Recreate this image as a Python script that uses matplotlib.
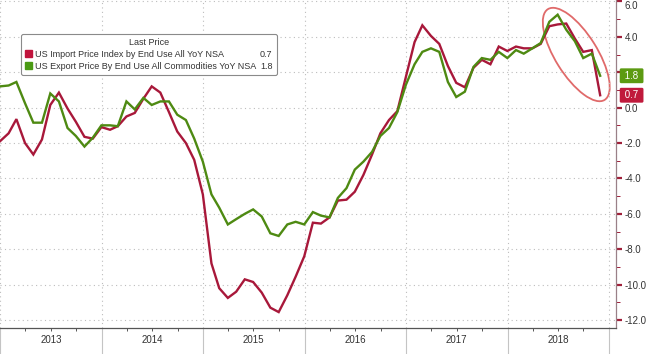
import numpy as np
import pandas as pd
import matplotlib
matplotlib.use('Agg')
import matplotlib.pyplot as plt
import matplotlib.dates as mdates
from matplotlib.patches import Ellipse, Patch
from matplotlib.transforms import ScaledTranslation, blended_transform_factory

# monthly YoY % values, Dec 2012 .. Nov 2018 (month-end)
dates = pd.date_range('2013-01-01', periods=72, freq='MS') - pd.Timedelta(days=1)

import_yoy = [-1.9, -1.45, -0.65, -2.0, -2.65, -1.8, 0.15, 0.85, -0.05, -0.8, -1.65, -1.75,
              -1.1, -1.25, -1.05, -0.5, -0.3, 0.5, 1.2, 0.85, -0.25, -1.35, -2.0, -2.95,
              -4.9, -8.8, -10.2, -10.75, -10.4, -9.7, -9.85, -10.45, -11.3, -11.55, -10.6, -9.55,
              -8.4, -6.5, -6.55, -6.2, -5.25, -5.2, -4.75, -3.8, -2.65, -1.45, -0.7, -0.2,
              1.75, 3.7, 4.65, 4.05, 3.6, 2.35, 1.4, 1.15, 2.25, 2.7, 2.45, 3.45,
              3.2, 3.45, 3.35, 3.35, 3.6, 4.6, 4.7, 4.75, 3.9, 3.15, 3.25, 0.7]
export_yoy = [1.2, 1.25, 1.45, 0.25, -0.85, -0.85, 0.8, 0.35, -1.15, -1.6, -2.2, -1.7,
              -1.0, -1.0, -1.05, 0.35, -0.1, 0.55, 0.15, 0.35, 0.35, -0.4, -0.7, -1.75,
              -3.05, -4.9, -5.65, -6.6, -6.3, -6.0, -5.75, -6.15, -7.1, -7.25, -6.6, -6.45,
              -6.6, -5.9, -6.1, -6.2, -5.1, -4.55, -3.5, -3.05, -2.5, -1.6, -1.15, -0.25,
              1.3, 2.45, 3.15, 3.35, 3.15, 1.45, 0.6, 0.9, 2.3, 2.8, 2.7, 3.15,
              2.8, 3.25, 3.05, 3.35, 3.65, 4.85, 5.25, 4.4, 3.75, 2.8, 3.05, 1.8]

series_names = ['US Import Price Index by End Use All YoY NSA',
                'US Export Price By End Use All Commodities YoY NSA']
last_values = ['0.7', '1.8']
years = [2013, 2014, 2015, 2016, 2017, 2018]

red = '#a8183a'
green = '#4e8a12'
plt.rcParams['font.family'] = ['Liberation Sans', 'DejaVu Sans']

fig = plt.figure(figsize=(6.5, 3.54), dpi=100)
ax = fig.add_axes([0, 0.0734, 0.9477, 0.9266])

ax.plot(dates, import_yoy, color=red, lw=1.7, solid_joinstyle='miter')
ax.plot(dates, export_yoy, color=green, lw=1.7, solid_joinstyle='miter')

ax.set_xlim(pd.Timestamp('2012-12-31'), pd.Timestamp('2019-01-26'))
ax.set_ylim(-12.45, 6.08)

# y axis on the right (the 2.0 label sits under the last-value tag)
ax.yaxis.tick_right()
ax.set_yticks(np.arange(-12, 7, 2))
ax.set_yticks(np.arange(-11, 6, 2), minor=True)
ax.yaxis.set_major_formatter(plt.FuncFormatter(lambda v, p: '' if abs(v - 2) < 1e-9 else f'{v:.1f}'))
ax.tick_params(axis='y', which='major', length=4, width=1.6, color='#a0203a',
               labelsize=7, labelcolor='#333333', pad=2)
ax.tick_params(axis='y', which='minor', length=3, width=0.7, color='#a0203a')

# x axis: year separators, quarter ticks, year labels
ax.xaxis.set_major_locator(mdates.YearLocator())
ax.xaxis.set_minor_locator(mdates.MonthLocator(bymonth=[4, 7, 10]))
ax.xaxis.set_major_formatter(plt.NullFormatter())
ax.tick_params(axis='x', which='major', length=19, width=0.8, color='#c4c4c4')
ax.tick_params(axis='x', which='minor', length=2.5, width=0.7, color='#555555')
trans = blended_transform_factory(ax.transData, ax.transAxes)
for yr in years:
    ax.text(pd.Timestamp(f'{yr}-07-02'), -0.037, str(yr), transform=trans,
            ha='center', va='center', fontsize=7, color='#333333')

ax.grid(True, which='major', color='#bdbdbd', lw=0.8, ls=(0, (1, 3)))
for s in ['top', 'left']:
    ax.spines[s].set_visible(False)
ax.spines['bottom'].set_color('#555555')
ax.spines['bottom'].set_linewidth(0.9)
ax.spines['right'].set_color('#9a8088')
ax.spines['right'].set_linewidth(0.9)

fig.canvas.draw()
for lbl in ax.get_yticklabels():
    if lbl.get_text() == '6.0':
        lbl.set_verticalalignment('top')

# last value tags
ytrans = blended_transform_factory(ax.transAxes, ax.transData)
ax.text(1.01, export_yoy[-1], ' ' + last_values[1] + ' ', transform=ytrans, ha='left',
        va='center', fontsize=7, color='white',
        bbox=dict(boxstyle='round,pad=0.25,rounding_size=0.15', fc='#5c9a12', ec='none'))
ax.text(1.01, import_yoy[-1], ' ' + last_values[0] + ' ', transform=ytrans, ha='left',
        va='center', fontsize=7, color='white',
        bbox=dict(boxstyle='round,pad=0.25,rounding_size=0.15', fc='#c01a3c', ec='none'))

# legend
handles = [Patch(color='#c0143c'), Patch(color='#4a9a14'),
           Patch(alpha=0), Patch(alpha=0)]
labels = series_names + last_values
leg = ax.legend(handles, labels, title='Last Price', ncol=2, loc='upper left',
                bbox_to_anchor=(0.027, 0.91), fontsize=6.5, title_fontsize=6.5,
                handlelength=0.8, handleheight=0.8, handletextpad=0.3,
                columnspacing=-0.7, labelspacing=0.3, borderpad=0.45,
                fancybox=True, framealpha=1, edgecolor='#8a8a8a')
leg.get_frame().set_linewidth(0.8)
for t in leg.get_texts():
    t.set_color('#333333')
leg.get_title().set_color('#333333')

# highlight ellipse around the latest drop
center = ScaledTranslation(mdates.date2num(pd.Timestamp('2018-09-05')), 3.0, ax.transData)
ell = Ellipse((0, 0), 1.07, 0.42, angle=-58, fill=False, ec='#e06a6a', lw=1.3,
              transform=fig.dpi_scale_trans + center, clip_on=False)
ax.add_patch(ell)

fig.savefig('out.png', dpi=100)
